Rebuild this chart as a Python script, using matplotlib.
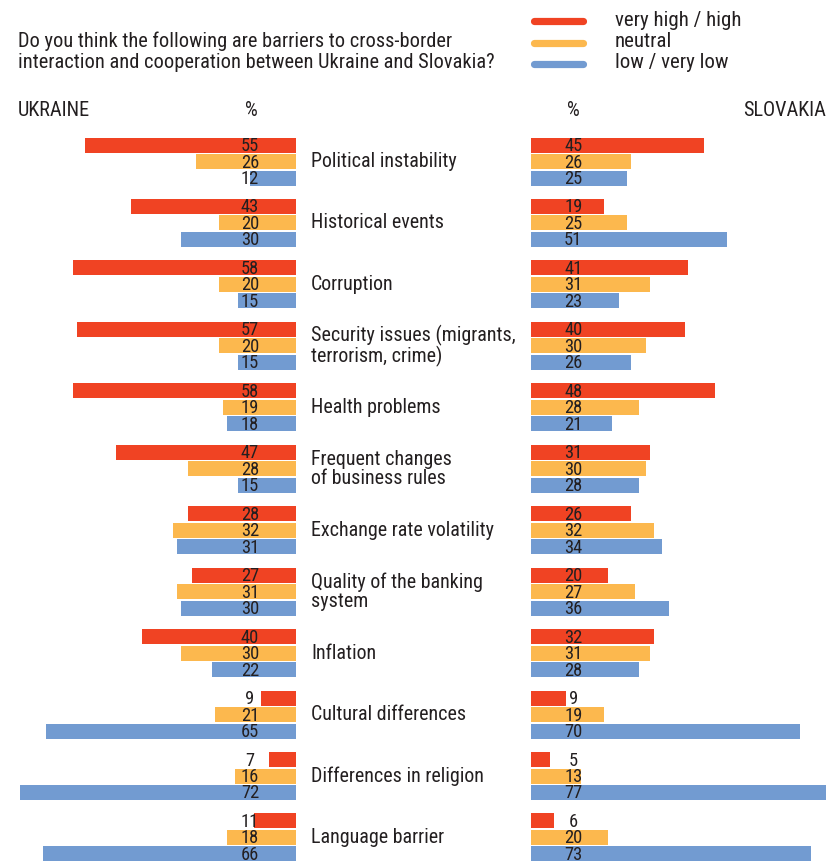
import matplotlib.pyplot as plt

plt.rcParams['font.family'] = ['Roboto Condensed', 'Barlow Semi Condensed', 'DejaVu Sans']

categories = ["Political instability", "Historical events", "Corruption",
              "Security issues (migrants,\nterrorism, crime)", "Health problems",
              "Frequent changes\nof business rules", "Exchange rate volatility",
              "Quality of the banking\nsystem", "Inflation", "Cultural differences",
              "Differences in religion", "Language barrier"]
ua_high = [55, 43, 58, 57, 58, 47, 28, 27, 40, 9, 7, 11]
ua_neutral = [26, 20, 20, 20, 19, 28, 32, 31, 30, 21, 16, 18]
ua_low = [12, 30, 15, 15, 18, 15, 31, 30, 22, 65, 72, 66]
sk_high = [45, 19, 41, 40, 48, 31, 26, 20, 32, 9, 5, 6]
sk_neutral = [26, 25, 31, 30, 28, 30, 32, 27, 31, 19, 13, 20]
sk_low = [25, 51, 23, 26, 21, 28, 34, 36, 28, 70, 77, 73]
legend_labels = ["very high / high", "neutral", "low / very low"]

RED, ORANGE, BLUE = '#F04323', '#FCB84E', '#729BD1'
colors = [RED, ORANGE, BLUE]
TXT = '#231F20'

W, H = 826, 861
fig = plt.figure(figsize=(W / 100, H / 100), dpi=100)

PX = 3.84  # pixels per percent
left_zero, right_zero = 296, 531
ax_l = fig.add_axes([0, 0, left_zero / W, 1])
ax_r = fig.add_axes([right_zero / W, 0, (W - right_zero) / W, 1])
ax_l.set_xlim(left_zero / PX, 0)
ax_r.set_xlim(0, (W - right_zero) / PX)

centers = [161.5 + 61.45 * i for i in range(len(categories))]
offsets = [-16.5, 0, 16.5]

for ax, series, lab_x in [(ax_l, [ua_high, ua_neutral, ua_low], 12),
                          (ax_r, [sk_high, sk_neutral, sk_low], 11)]:
    ax.set_ylim(H, 0)
    ax.axis('off')
    for s, col, off in zip(series, colors, offsets):
        ys = [c + off for c in centers]
        ax.barh(ys, s, height=15, color=col, linewidth=0)
        for y, v in zip(ys, s):
            ax.text(lab_x, y + 1, str(v), ha='center', va='center',
                    fontsize=13.3, color=TXT)

def fx(x):
    return x / W

def fy(y):
    return 1 - y / H

for c, lab in zip(centers, categories):
    fig.text(fx(311), fy(c), lab, ha='left', va='center', fontsize=14.4,
             color=TXT, linespacing=1.0)

fig.text(fx(18), fy(52), "Do you think the following are barriers to cross-border\n"
         "interaction and cooperation between Ukraine and Slovakia?",
         ha='left', va='center', fontsize=14.7, color=TXT, linespacing=1.12)

for i, (lab, col) in enumerate(zip(legend_labels, colors)):
    y = 21 + 21.5 * i
    fig.add_artist(plt.Line2D([fx(534), fx(583)], [fy(y), fy(y)], color=col,
                              linewidth=5.2, solid_capstyle='round'))
    fig.text(fx(615), fy(y - 1), lab, ha='left', va='center', fontsize=15, color=TXT)

fig.text(fx(18), fy(111), "UKRAINE", ha='left', va='center', fontsize=14.6, color=TXT)
fig.text(fx(251), fy(111), "%", ha='center', va='center', fontsize=14.6, color=TXT)
fig.text(fx(573), fy(111), "%", ha='center', va='center', fontsize=14.6, color=TXT)
fig.text(fx(826), fy(111), "SLOVAKIA", ha='right', va='center', fontsize=14.6, color=TXT)

fig.savefig('out.png', dpi=100, facecolor='white')
